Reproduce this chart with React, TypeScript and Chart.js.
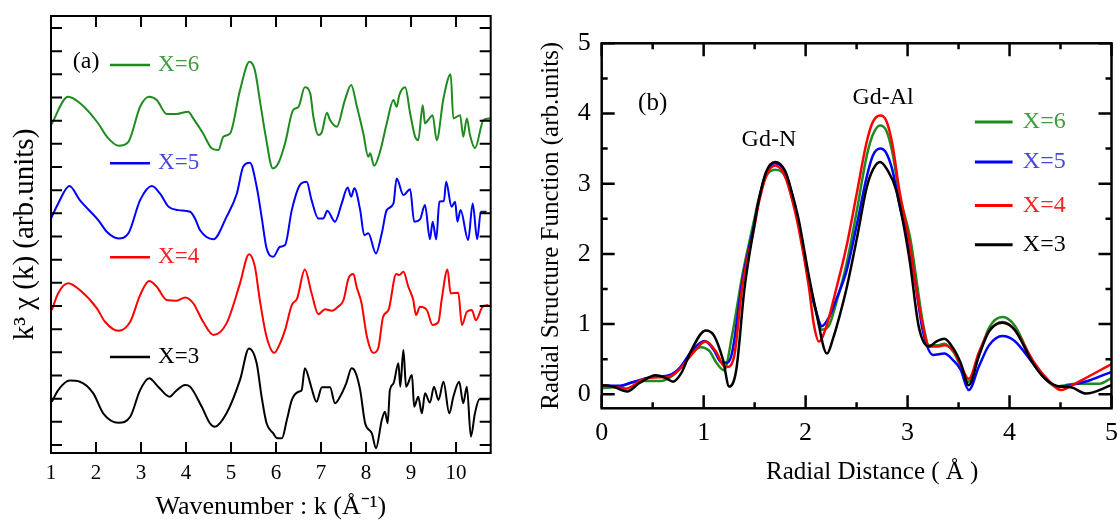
import React, { useEffect, useRef } from "react";
import { Chart, registerables } from "chart.js";

Chart.register(...registerables);

const FONT = "'Liberation Serif', 'Times New Roman', serif";

// ---------- Panel (a): k^3 chi(k) ----------
const K_TICKS = [1, 2, 3, 4, 5, 6, 7, 8, 9, 10];
const A_Y_TICKS = [0, 1, 2, 3, 4, 5, 6, 7, 8, 9, 10, 11, 12, 13, 14, 15, 16, 17, 18];

const chiX6: number[][] = [
  [1.0, 13.81], [1.38, 15.03], [1.64, 14.76], [2.05, 13.88], [2.24, 13.31], [2.5, 12.92], [2.72, 13.09],
  [2.98, 14.6], [3.18, 15.03], [3.35, 14.89], [3.57, 14.29], [3.79, 14.29], [4.05, 14.39], [4.16, 14.1],
  [4.38, 13.45], [4.57, 12.81], [4.72, 12.73], [4.83, 13.31], [4.98, 13.45], [5.2, 15.32], [5.41, 16.54],
  [5.53, 16.18], [5.64, 14.89], [5.76, 13.45], [5.93, 11.94], [6.05, 12.16], [6.2, 13.02], [6.38, 14.46],
  [6.5, 14.6], [6.64, 15.44], [6.76, 15.18], [6.83, 14.17], [6.94, 13.38], [7.02, 13.52], [7.13, 14.34],
  [7.2, 14.03], [7.35, 13.74], [7.53, 14.89], [7.67, 15.54], [7.79, 14.67], [7.94, 13.45], [8.05, 12.44],
  [8.09, 12.59], [8.18, 12.05], [8.31, 12.66], [8.46, 13.88], [8.61, 14.89], [8.68, 14.6], [8.74, 15.11],
  [8.87, 15.44], [8.98, 14.32], [9.09, 13.31], [9.16, 13.16], [9.26, 14.67], [9.31, 13.88], [9.38, 14.03],
  [9.48, 14.24], [9.57, 13.16], [9.72, 14.96], [9.88, 16.01], [9.94, 14.1], [10.09, 14.24], [10.16, 13.31],
  [10.24, 14.1], [10.31, 13.38], [10.42, 12.81], [10.61, 14.03], [10.76, 14.1],
];

const chiX5: number[][] = [
  [1.0, 9.78], [1.16, 10.43], [1.41, 11.18], [1.64, 10.57], [2.05, 9.71], [2.24, 9.21], [2.5, 8.92],
  [2.72, 9.14], [2.98, 10.57], [3.24, 11.18], [3.42, 10.86], [3.61, 10.29], [3.83, 10.14], [4.09, 10.07],
  [4.2, 9.78], [4.31, 9.28], [4.61, 8.88], [4.9, 9.85], [5.13, 10.86], [5.27, 12.01], [5.42, 12.18],
  [5.57, 11.15], [5.68, 9.85], [5.79, 8.49], [5.94, 8.13], [6.09, 8.56], [6.2, 8.63], [6.35, 10.14],
  [6.53, 11.22], [6.68, 11.36], [6.79, 10.57], [6.94, 9.78], [7.05, 9.78], [7.14, 10.11], [7.31, 9.64],
  [7.46, 10.43], [7.59, 11.12], [7.67, 10.72], [7.74, 11.08], [7.87, 10.14], [7.96, 9.06], [8.05, 9.14],
  [8.22, 8.27], [8.35, 9.14], [8.46, 10.14], [8.61, 10.43], [8.68, 11.51], [8.83, 10.79], [8.98, 11.04],
  [9.07, 9.64], [9.2, 9.74], [9.31, 10.36], [9.42, 8.88], [9.48, 9.64], [9.56, 8.88], [9.63, 10.5],
  [9.73, 10.53], [9.78, 11.36], [9.9, 10.29], [9.98, 10.5], [10.03, 9.64], [10.1, 10.14], [10.27, 8.85],
  [10.37, 10.43], [10.47, 8.88], [10.55, 10.07], [10.68, 10.07],
];

const chiX4: number[][] = [
  [1.02, 5.83], [1.16, 6.55], [1.38, 6.98], [1.64, 6.69], [2.02, 5.9], [2.2, 5.32], [2.5, 4.93],
  [2.76, 5.32], [2.98, 6.47], [3.18, 7.08], [3.35, 6.83], [3.57, 6.26], [3.79, 6.23], [3.98, 6.37],
  [4.16, 6.12], [4.38, 5.32], [4.61, 4.75], [4.9, 5.25], [5.2, 6.98], [5.4, 8.24], [5.53, 7.7],
  [5.64, 6.26], [5.79, 4.67], [5.96, 3.98], [6.09, 4.39], [6.2, 4.96], [6.35, 6.04], [6.47, 6.33],
  [6.64, 7.58], [6.79, 6.55], [6.94, 5.65], [7.09, 5.86], [7.24, 5.8], [7.38, 5.97], [7.5, 6.26],
  [7.61, 7.19], [7.72, 7.38], [7.79, 6.83], [7.9, 6.12], [8.02, 4.67], [8.16, 3.98], [8.27, 4.17],
  [8.38, 5.54], [8.5, 5.83], [8.67, 7.38], [8.74, 7.34], [8.83, 7.48], [8.94, 6.83], [9.05, 6.26],
  [9.11, 5.61], [9.2, 5.97], [9.35, 5.83], [9.48, 5.18], [9.61, 5.32], [9.68, 6.26], [9.81, 7.58],
  [9.88, 6.55], [10.05, 6.57], [10.13, 5.18], [10.24, 5.75], [10.35, 5.83], [10.44, 5.39], [10.59, 5.97],
  [10.72, 6.04],
];

const chiX3: number[][] = [
  [1.02, 1.87], [1.16, 2.37], [1.42, 2.78], [1.64, 2.73], [1.94, 2.23], [2.16, 1.37], [2.5, 0.96],
  [2.76, 1.22], [2.98, 2.37], [3.18, 2.88], [3.38, 2.52], [3.64, 2.08], [3.76, 2.3], [3.98, 2.59],
  [4.09, 2.52], [4.35, 1.65], [4.53, 0.94], [4.64, 0.79], [4.9, 1.37], [5.2, 2.81], [5.4, 4.17],
  [5.57, 3.53], [5.68, 2.08], [5.79, 0.94], [5.94, 0.5], [6.02, 0.29], [6.13, 0.29], [6.24, 1.08],
  [6.35, 1.94], [6.5, 2.3], [6.57, 2.37], [6.64, 3.31], [6.76, 2.66], [6.79, 2.45], [6.9, 1.87],
  [7.02, 2.49], [7.2, 2.49], [7.31, 1.8], [7.42, 2.08], [7.56, 2.66], [7.68, 3.31], [7.76, 3.16],
  [7.87, 2.37], [7.98, 0.94], [8.13, 0.5], [8.22, -0.14], [8.35, 1.08], [8.42, 1.44], [8.48, 0.94],
  [8.53, 2.37], [8.61, 2.66], [8.72, 3.53], [8.76, 2.52], [8.83, 4.1], [8.89, 2.52], [9.02, 3.02],
  [9.07, 1.65], [9.16, 2.08], [9.24, 1.37], [9.31, 2.23], [9.42, 1.83], [9.51, 2.52], [9.61, 1.94],
  [9.72, 2.73], [9.85, 1.37], [9.94, 2.08], [10.07, 2.73], [10.16, 1.8], [10.24, 2.52], [10.33, 0.36],
  [10.42, 1.37], [10.52, 1.97], [10.72, 1.97],
];

// ---------- Panel (b): radial structure function ----------
const R_TICKS = [0, 1, 2, 3, 4, 5];
const R_MINOR = [0.5, 1.5, 2.5, 3.5, 4.5];
const RSF_TICKS = [0, 1, 2, 3, 4, 5];
const RSF_MINOR = [0.5, 1.5, 2.5, 3.5, 4.5];

const rsfX6: number[][] = [
  [0, 0.085], [0.17, 0.11], [0.37, 0.19], [0.58, 0.19], [0.68, 0.25], [0.78, 0.39], [0.86, 0.54],
  [0.97, 0.67], [1.06, 0.61], [1.12, 0.46], [1.2, 0.34], [1.28, 0.85], [1.38, 1.7], [1.49, 2.45],
  [1.54, 2.78], [1.61, 3.1], [1.7, 3.2], [1.8, 3.1], [1.87, 2.78], [1.93, 2.43], [2.03, 1.62],
  [2.1, 1.18], [2.16, 0.92], [2.23, 0.98], [2.3, 1.3], [2.4, 1.85], [2.5, 2.6], [2.6, 3.4],
  [2.66, 3.7], [2.73, 3.83], [2.79, 3.76], [2.85, 3.45], [2.92, 2.85], [3.03, 2.19],
  [3.09, 1.6], [3.15, 1.02], [3.21, 0.7], [3.3, 0.7], [3.36, 0.72], [3.45, 0.6], [3.52, 0.4],
  [3.6, 0.18], [3.7, 0.55], [3.8, 0.95], [3.93, 1.1], [4.05, 0.98], [4.23, 0.46], [4.35, 0.22],
  [4.46, 0.11], [4.55, 0.13], [4.65, 0.15], [4.88, 0.15], [5.0, 0.23],
];

const rsfX5: number[][] = [
  [0, 0.13], [0.17, 0.12], [0.3, 0.17], [0.47, 0.24], [0.66, 0.27], [0.76, 0.37], [0.89, 0.63],
  [1.01, 0.76], [1.1, 0.63], [1.17, 0.46], [1.23, 0.45], [1.28, 0.6], [1.38, 1.62], [1.49, 2.38],
  [1.54, 2.76], [1.61, 3.14], [1.7, 3.29], [1.8, 3.16], [1.87, 2.83], [1.93, 2.45], [2.03, 1.65],
  [2.1, 1.2], [2.16, 0.97], [2.23, 1.1], [2.3, 1.35], [2.4, 1.75], [2.5, 2.4], [2.6, 3.1],
  [2.66, 3.4], [2.73, 3.5], [2.79, 3.44], [2.85, 3.2], [2.92, 2.7], [3.03, 2.0],
  [3.09, 1.45], [3.15, 0.9], [3.25, 0.56], [3.36, 0.58], [3.45, 0.48], [3.52, 0.35], [3.6, 0.06],
  [3.7, 0.4], [3.8, 0.7], [3.93, 0.83], [4.05, 0.76], [4.23, 0.44], [4.35, 0.22], [4.49, 0.11],
  [4.6, 0.13], [4.79, 0.2], [5.0, 0.32],
];

const rsfX4: number[][] = [
  [0, 0.13], [0.14, 0.1], [0.24, 0.08], [0.4, 0.21], [0.5, 0.24], [0.66, 0.25], [0.76, 0.35],
  [0.89, 0.58], [1.02, 0.75], [1.12, 0.61], [1.2, 0.4], [1.23, 0.39], [1.3, 0.55], [1.38, 1.55],
  [1.49, 2.33], [1.54, 2.72], [1.61, 3.1], [1.7, 3.26], [1.8, 3.1], [1.87, 2.76], [1.93, 2.38],
  [2.03, 1.55], [2.08, 1.0], [2.13, 0.75], [2.2, 0.95], [2.3, 1.5], [2.4, 2.1], [2.5, 2.85],
  [2.6, 3.6], [2.66, 3.88], [2.73, 3.97], [2.79, 3.9], [2.85, 3.57], [2.92, 2.9],
  [3.02, 2.15], [3.08, 1.55], [3.15, 0.98], [3.21, 0.68], [3.3, 0.68], [3.36, 0.7], [3.45, 0.62],
  [3.52, 0.42], [3.6, 0.22], [3.7, 0.6], [3.8, 0.9], [3.93, 1.03], [4.05, 0.92], [4.23, 0.48],
  [4.35, 0.25], [4.51, 0.06], [4.6, 0.12], [4.72, 0.21], [5.0, 0.43],
];

const rsfX3: number[][] = [
  [0, 0.13], [0.11, 0.11], [0.25, 0.04], [0.37, 0.16], [0.53, 0.27], [0.63, 0.23], [0.7, 0.18],
  [0.78, 0.3], [0.88, 0.63], [1.02, 0.91], [1.1, 0.84], [1.19, 0.49], [1.25, 0.11], [1.32, 0.35],
  [1.4, 1.5], [1.49, 2.35], [1.54, 2.76], [1.61, 3.16], [1.7, 3.31], [1.8, 3.18], [1.87, 2.85],
  [1.93, 2.5], [2.03, 1.7], [2.1, 1.2], [2.21, 0.58], [2.27, 0.8], [2.33, 1.1], [2.4, 1.5],
  [2.5, 2.2], [2.6, 2.95], [2.66, 3.2], [2.73, 3.31], [2.8, 3.2], [2.89, 2.9],
  [3.02, 1.91], [3.11, 0.96], [3.21, 0.68], [3.28, 0.75], [3.36, 0.79], [3.45, 0.65], [3.52, 0.45],
  [3.6, 0.13], [3.7, 0.55], [3.8, 0.9], [3.93, 1.02], [4.05, 0.92], [4.23, 0.44], [4.35, 0.22],
  [4.49, 0.11], [4.6, 0.1], [4.75, 0.01], [5.0, 0.13],
];

const SERIES_LABELS = ["X=6", "X=5", "X=4", "X=3"];
const LINE_COLORS = ["#1f8a1f", "#0000ff", "#ff0000", "#000000"];
const TEXT_COLORS = ["#3f9c3f", "#4848d8", "#ff2020", "#000000"];

const toPts = (arr: number[][]) => arr.map(([x, y]) => ({ x, y }));

type Note = { text: string; x: number; y: number; color: string; size: number; align: CanvasTextAlign };
type LegendRow = { label: string; color: string; textColor: string; y: number };

function decorPlugin(cfg: {
  frameWidth: number;
  xMajor: number[];
  xMinor: number[];
  yMajor: number[];
  yMinor: number[];
  majorLen: number;
  minorLen: number;
  notes: Note[];
  legend: LegendRow[];
  legendX0: number;
  legendX1: number;
  legendTextX: number;
  legendSize: number;
  legendLineWidth: number;
}) {
  return {
    id: "decor",
    afterDraw(chart: any) {
      const { ctx, chartArea: a } = chart;
      const xs = chart.scales.x;
      const ys = chart.scales.y;
      ctx.save();
      ctx.strokeStyle = "#000";
      ctx.lineWidth = cfg.frameWidth;
      ctx.lineCap = "butt";
      ctx.strokeRect(a.left, a.top, a.right - a.left, a.bottom - a.top);
      ctx.beginPath();
      const xt = (vals: number[], len: number) => {
        for (const v of vals) {
          const p = xs.getPixelForValue(v);
          ctx.moveTo(p, a.bottom);
          ctx.lineTo(p, a.bottom - len);
          ctx.moveTo(p, a.top);
          ctx.lineTo(p, a.top + len);
        }
      };
      const yt = (vals: number[], len: number) => {
        for (const v of vals) {
          const p = ys.getPixelForValue(v);
          ctx.moveTo(a.left, p);
          ctx.lineTo(a.left + len, p);
          ctx.moveTo(a.right, p);
          ctx.lineTo(a.right - len, p);
        }
      };
      xt(cfg.xMajor, cfg.majorLen);
      xt(cfg.xMinor, cfg.minorLen);
      yt(cfg.yMajor, cfg.majorLen);
      yt(cfg.yMinor, cfg.minorLen);
      ctx.stroke();

      ctx.textBaseline = "middle";
      for (const n of cfg.notes) {
        ctx.font = `${n.size}px ${FONT}`;
        ctx.fillStyle = n.color;
        ctx.textAlign = n.align;
        ctx.fillText(n.text, xs.getPixelForValue(n.x), ys.getPixelForValue(n.y));
      }
      for (const r of cfg.legend) {
        const py = ys.getPixelForValue(r.y);
        ctx.beginPath();
        ctx.strokeStyle = r.color;
        ctx.lineWidth = cfg.legendLineWidth;
        ctx.moveTo(xs.getPixelForValue(cfg.legendX0), py);
        ctx.lineTo(xs.getPixelForValue(cfg.legendX1), py);
        ctx.stroke();
        ctx.font = `${cfg.legendSize}px ${FONT}`;
        ctx.fillStyle = r.textColor;
        ctx.textAlign = "left";
        ctx.fillText(r.label, xs.getPixelForValue(cfg.legendTextX), py);
      }
      ctx.restore();
    },
  };
}

function PanelA() {
  const ref = useRef<HTMLCanvasElement>(null);
  useEffect(() => {
    const series = [chiX6, chiX5, chiX4, chiX3];
    const datasets = series
      .map((s, i) => ({
        label: SERIES_LABELS[i],
        data: toPts(s),
        borderColor: LINE_COLORS[i],
        borderWidth: 2,
        pointRadius: 0,
        fill: false,
        cubicInterpolationMode: "monotone" as const,
      }))
      .reverse();
    const legendY = [16.4, 12.16, 8.11, 3.8];
    const chart = new Chart(ref.current!, {
      type: "line",
      data: { datasets },
      options: {
        animation: false,
        responsive: false,
        devicePixelRatio: 1,
        layout: { padding: { left: 0, top: 16, right: 9.3, bottom: 0 } },
        plugins: { legend: { display: false }, tooltip: { enabled: false } },
        scales: {
          x: {
            type: "linear",
            min: 1,
            max: 10.77,
            afterBuildTicks: (s: any) => {
              s.ticks = K_TICKS.map((v) => ({ value: v }));
            },
            afterFit: (s: any) => {
              s.height = 70;
            },
            grid: { display: false, drawTicks: true, tickLength: 8 },
            border: { display: false },
            ticks: { padding: 0, color: "#000", font: { family: FONT, size: 21 }, maxRotation: 0, autoSkip: false },
            title: {
              display: true,
              text: "Wavenumber : k (Å⁻¹)",
              color: "#000",
              font: { family: FONT, size: 26 },
              padding: { top: 0, bottom: 0 },
            },
          },
          y: {
            type: "linear",
            min: -0.345,
            max: 18.52,
            afterFit: (s: any) => {
              s.width = 51;
            },
            grid: { display: false, drawTicks: false },
            border: { display: false },
            ticks: { display: false },
            title: {
              display: true,
              text: "k³ χ (k) (arb.units)",
              color: "#000",
              font: { family: FONT, size: 29 },
              padding: { top: 8, bottom: 0 },
            },
          },
        },
      },
      plugins: [
        decorPlugin({
          frameWidth: 2,
          xMajor: K_TICKS,
          xMinor: [],
          yMajor: A_Y_TICKS,
          yMinor: [],
          majorLen: 11,
          minorLen: 6,
          notes: [{ text: "(a)", x: 1.78, y: 16.53, color: "#000", size: 24, align: "center" }],
          legend: SERIES_LABELS.map((l, i) => ({ label: l, color: LINE_COLORS[i], textColor: TEXT_COLORS[i], y: legendY[i] })),
          legendX0: 2.31,
          legendX1: 3.2,
          legendTextX: 3.38,
          legendSize: 23,
          legendLineWidth: 2.5,
        }),
      ],
    } as any);
    return () => chart.destroy();
  }, []);
  return <canvas ref={ref} width={500} height={523} style={{ position: "absolute", left: 0, top: 0 }} />;
}

function PanelB() {
  const ref = useRef<HTMLCanvasElement>(null);
  useEffect(() => {
    const series = [rsfX6, rsfX5, rsfX4, rsfX3];
    const datasets = series
      .map((s, i) => ({
        label: SERIES_LABELS[i],
        data: toPts(s),
        borderColor: LINE_COLORS[i],
        borderWidth: 2.5,
        pointRadius: 0,
        fill: false,
        cubicInterpolationMode: "monotone" as const,
      }))
      .reverse();
    const legendY = [3.88, 3.31, 2.69, 2.13];
    const chart = new Chart(ref.current!, {
      type: "line",
      data: { datasets },
      options: {
        animation: false,
        responsive: false,
        devicePixelRatio: 1,
        layout: { padding: { left: 0, top: 43.3, right: 6.3, bottom: 0 } },
        plugins: { legend: { display: false }, tooltip: { enabled: false } },
        scales: {
          x: {
            type: "linear",
            min: 0,
            max: 5,
            afterBuildTicks: (s: any) => {
              s.ticks = R_TICKS.map((v) => ({ value: v }));
            },
            afterFit: (s: any) => {
              s.height = 114.7;
            },
            grid: { display: false, drawTicks: true, tickLength: 9 },
            border: { display: false },
            ticks: { padding: 0, color: "#000", font: { family: FONT, size: 26 }, maxRotation: 0, autoSkip: false },
            title: {
              display: true,
              text: "     Radial Distance ( Å )",
              color: "#000",
              font: { family: FONT, size: 25 },
              padding: { top: 0, bottom: 36 },
            },
          },
          y: {
            type: "linear",
            min: -0.2,
            max: 5,
            afterBuildTicks: (s: any) => {
              s.ticks = RSF_TICKS.map((v) => ({ value: v }));
            },
            afterFit: (s: any) => {
              s.width = 101.7;
            },
            grid: { display: false, drawTicks: false },
            border: { display: false },
            ticks: { padding: 11, color: "#000", font: { family: FONT, size: 26 } },
            title: {
              display: true,
              text: "Radial Structure Function (arb.units)",
              color: "#000",
              font: { family: FONT, size: 25 },
              padding: { top: 36, bottom: 0 },
            },
          },
        },
      },
      plugins: [
        decorPlugin({
          frameWidth: 2.5,
          xMajor: R_TICKS,
          xMinor: R_MINOR,
          yMajor: RSF_TICKS,
          yMinor: RSF_MINOR,
          majorLen: 13,
          minorLen: 6,
          notes: [
            { text: "(b)", x: 0.5, y: 4.15, color: "#000", size: 25, align: "center" },
            { text: "Gd-N", x: 1.64, y: 3.62, color: "#000", size: 24, align: "center" },
            { text: "Gd-Al", x: 2.76, y: 4.22, color: "#000", size: 24, align: "center" },
          ],
          legend: SERIES_LABELS.map((l, i) => ({ label: l, color: LINE_COLORS[i], textColor: TEXT_COLORS[i], y: legendY[i] })),
          legendX0: 3.66,
          legendX1: 4.03,
          legendTextX: 4.13,
          legendSize: 24,
          legendLineWidth: 3,
        }),
      ],
    } as any);
    return () => chart.destroy();
  }, []);
  return <canvas ref={ref} width={618} height={523} style={{ position: "absolute", left: 500, top: 0 }} />;
}

export default function App() {
  return (
    <div style={{ position: "fixed", left: 0, top: 0, width: 1117, height: 523, background: "#fff", overflow: "hidden" }}>
      <PanelA />
      <PanelB />
    </div>
  );
}
